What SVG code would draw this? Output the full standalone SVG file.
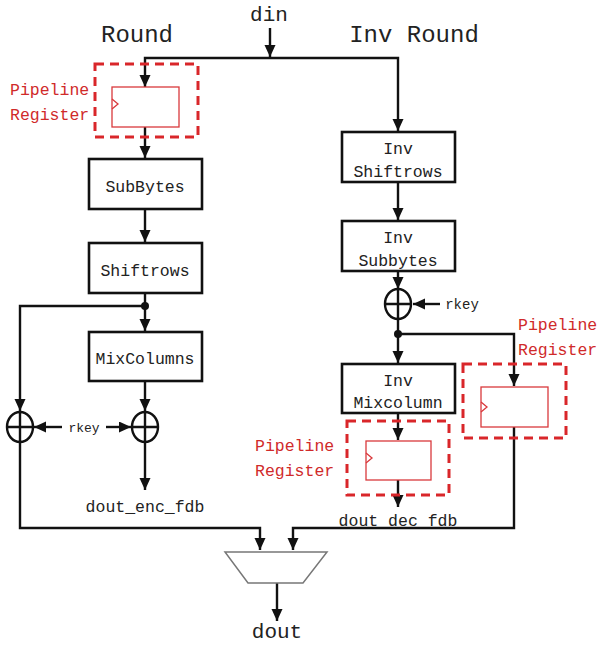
<svg xmlns="http://www.w3.org/2000/svg" width="600" height="645" viewBox="0 0 600 645">
<style>
.box{fill:#fff;stroke:#111;stroke-width:2.6}
.t{font-family:"Liberation Mono","DejaVu Sans Mono",monospace;fill:#222;text-anchor:middle}
.bt{font-size:16.5px}
.title{font-size:24px}
.red{fill:#d02a2a;font-family:"Liberation Mono","DejaVu Sans Mono",monospace;font-size:16.5px}
.dash{fill:none;stroke:#d9262a;stroke-width:3;stroke-dasharray:9,6}
.reg{fill:#fff;stroke:#d9393c;stroke-width:1.3}
.clk{fill:none;stroke:#d9393c;stroke-width:1.3}
.c{fill:none;stroke:#111;stroke-width:2.4}
.xor{fill:#fff;stroke:#111;stroke-width:2.4}
</style>
<defs>
<marker id="ah" markerUnits="userSpaceOnUse" markerWidth="12" markerHeight="12" refX="12" refY="5.5" orient="auto">
<path d="M0,0 L12,5.5 L0,11 z" fill="#111"/>
</marker>
</defs>
<rect width="600" height="645" fill="#fff"/>
<text class="t title" x="137" y="42">Round</text>
<text class="t title" x="414" y="42">Inv Round</text>
<text class="t" x="269" y="21" font-size="21">din</text>

<text class="t bt" x="398" y="526">dout_dec_fdb</text>

<g id="connectors">
<path class="c" d="M270,28 V57" marker-end="url(#ah)"/>
<path class="c" d="M270,58 H145 V87" marker-end="url(#ah)"/>
<path class="c" d="M270,58 H398 V131" marker-end="url(#ah)"/>
<path class="c" d="M145,127 V158" marker-end="url(#ah)"/>
<path class="c" d="M145,209 V242" marker-end="url(#ah)"/>
<path class="c" d="M145,293 V331" marker-end="url(#ah)"/>
<path class="c" d="M145,306 H20 V411" marker-end="url(#ah)"/>
<path class="c" d="M145,381 V411" marker-end="url(#ah)"/>
<path class="c" d="M62,427 H34" marker-end="url(#ah)"/>
<path class="c" d="M106,427 H131" marker-end="url(#ah)"/>
<path class="c" d="M145,442 V490" marker-end="url(#ah)"/>
<path class="c" d="M20,442 V528 H260 V550" marker-end="url(#ah)"/>
<path class="c" d="M514,427 V528 H293 V550" marker-end="url(#ah)"/>
<path class="c" d="M277,583 V621" marker-end="url(#ah)"/>
<path class="c" d="M398,182 V220" marker-end="url(#ah)"/>
<path class="c" d="M398,271 V289" marker-end="url(#ah)"/>
<path class="c" d="M440,304 H413" marker-end="url(#ah)"/>
<path class="c" d="M398,319 V363" marker-end="url(#ah)"/>
<path class="c" d="M398,334 H514 V386" marker-end="url(#ah)"/>
<path class="c" d="M398,413 V440" marker-end="url(#ah)"/>
<path class="c" d="M398,480 V507" marker-end="url(#ah)"/>
<circle cx="145" cy="306" r="4" fill="#111"/>
<circle cx="398" cy="334" r="4" fill="#111"/>
</g>

<g id="reg1">
<rect class="dash" x="95" y="64" width="103" height="73"/>
<rect class="reg" x="112" y="87" width="67" height="40"/>
<path class="clk" d="M112,99 L118,104 L112,109"/>
<text class="red" x="10" y="95">Pipeline</text>
<text class="red" x="10" y="120">Register</text>
</g>

<g id="subbytes"><rect class="box" x="89" y="159" width="113" height="50"/><text class="t bt" x="145" y="192">SubBytes</text></g>
<g id="shiftrows"><rect class="box" x="89" y="243" width="113" height="50"/><text class="t bt" x="145" y="276">Shiftrows</text></g>
<g id="mixcolumns"><rect class="box" x="89" y="332" width="113" height="49"/><text class="t bt" x="145" y="364">MixColumns</text></g>

<g id="xorL"><ellipse class="xor" cx="20" cy="427" rx="13" ry="15"/><path class="c" d="M7,427 H33 M20,412 V442"/></g>
<g id="xorR"><ellipse class="xor" cx="145" cy="427" rx="13" ry="15"/><path class="c" d="M132,427 H158 M145,412 V442"/></g>
<text class="t" x="84" y="432" font-size="13">rkey</text>
<text class="t bt" x="145" y="512">dout_enc_fdb</text>

<g id="invshift"><rect class="box" x="342" y="132" width="113" height="50"/><text class="t bt" x="398" y="154">Inv</text><text class="t bt" x="398" y="177">Shiftrows</text></g>
<g id="invsub"><rect class="box" x="342" y="221" width="113" height="50"/><text class="t bt" x="398" y="243">Inv</text><text class="t bt" x="398" y="266">Subbytes</text></g>
<g id="xorInv"><ellipse class="xor" cx="398" cy="304" rx="13" ry="15"/><path class="c" d="M385,304 H411 M398,289 V319"/></g>
<text class="t" x="462" y="309" font-size="14">rkey</text>
<g id="invmix"><rect class="box" x="342" y="364" width="113" height="49"/><text class="t bt" x="398" y="386">Inv</text><text class="t bt" x="398" y="408">Mixcolumn</text></g>

<g id="reg2">
<rect class="dash" x="347" y="421" width="102" height="74"/>
<rect class="reg" x="366" y="441" width="65" height="39"/>
<path class="clk" d="M366,453 L372,458 L366,463"/>
<text class="red" x="255" y="451">Pipeline</text>
<text class="red" x="255" y="476">Register</text>
</g>

<g id="reg3">
<rect class="dash" x="463" y="364" width="103" height="74"/>
<rect class="reg" x="481" y="387" width="67" height="40"/>
<path class="clk" d="M481,402 L487,407 L481,412"/>
<text class="red" x="518" y="330">Pipeline</text>
<text class="red" x="518" y="355">Register</text>
</g>

<g id="mux"><polygon points="225,552 327,552 303,583 248,583" fill="#fff" stroke="#777" stroke-width="1.5"/></g>
<text class="t" x="277" y="638" font-size="21">dout</text>
</svg>
